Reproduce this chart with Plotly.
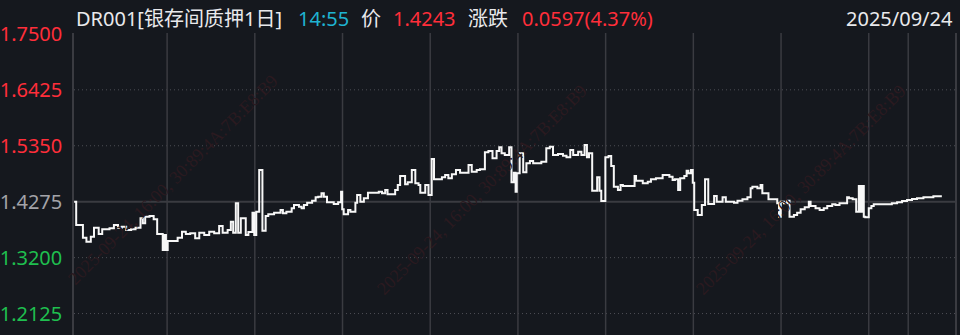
import plotly.graph_objects as go

# ---------------- data ----------------
# minutes since 09:00 where each step of the DR001 rate begins
TIME_MIN = [
    -1.8, -1.1, 1.2, 2.4, 3.9, 5.0, 6.6, 7.8, 10.3, 11.8,
    13.2, 14.5, 16.0, 17.7, 19.2, 20.9, 21.7, 22.5, 24.0, 25.4,
    26.6, 28.5, 29.1, 29.6, 30.2, 33.6, 35.1, 36.4, 37.9, 39.6,
    41.0, 42.7, 44.4, 46.1, 47.8, 49.0, 50.7, 51.8, 52.6, 53.5,
    54.3, 55.2, 56.9, 57.8, 59.2, 59.8, 60.5, 61.5, 62.6, 63.7,
    64.6, 66.6, 68.8, 69.6, 70.8, 72.6, 73.4, 75.1, 76.0, 76.8,
    77.9, 79.6, 80.8, 81.7, 82.8, 83.6, 84.7, 87.0, 88.5, 89.5,
    89.9, 90.4, 91.9, 92.7, 94.4, 95.0, 96.1, 97.3, 98.7, 102.4,
    103.5, 104.6, 105.4, 108.0, 108.9, 109.7, 111.4, 112.3, 113.7, 114.9,
    116.0, 116.6, 118.3, 119.4, 120.5, 121.3, 124.0, 125.1, 126.2, 127.4,
    128.8, 130.2, 133.1, 134.2, 135.9, 137.0, 138.7, 139.9, 141.3, 142.7,
    143.6, 144.4, 145.5, 147.0, 147.8, 148.6, 149.2, 149.6, 150.6, 151.8,
    152.9, 154.1, 155.2, 158.0, 159.7, 160.9, 162.0, 163.7, 165.4, 166.6,
    167.9, 168.9, 170.6, 171.7, 172.8, 173.6, 174.3, 175.4, 177.1, 177.9,
    178.5, 179.9, 181.0, 181.9, 182.8, 184.2, 185.1, 185.9, 189.9, 190.4,
    192.7, 194.4, 195.5, 197.2, 199.5, 201.8, 202.9, 203.7, 204.8, 205.5,
    206.9, 207.7, 208.3, 209.2, 209.8, 210.3, 211.5, 212.9, 214.0, 215.1,
    217.1, 218.0, 220.0, 221.1, 223.9, 225.1, 226.8, 228.5, 229.6, 230.2,
    231.9, 233.0, 233.6, 235.7, 238.7, 239.3, 239.9, 241.0, 242.1, 242.9,
    244.4, 245.5, 246.7, 248.1, 249.5, 250.1, 251.8, 253.2, 254.6, 255.8,
    257.5, 258.6, 260.0, 262.6, 263.2, 264.5, 265.7, 266.6, 267.1, 267.7,
    268.3, 268.8, 270.0, 270.9, 271.7, 277.9, 279.7, 281.4, 283.1, 284.8,
    286.5, 288.7, 292.1, 295.0,
]

RATE = [
    1.4275, 1.3827, 1.3583, 1.3506, 1.3602, 1.3775, 1.3654, 1.3745, 1.3764, 1.3827,
    1.3775, 1.3795, 1.3731, 1.3745, 1.3775, 1.3956, 1.3860, 1.3987, 1.4000, 1.3937,
    1.3654, 1.3347, 1.3635, 1.3347, 1.3520, 1.3583, 1.3698, 1.3654, 1.3668, 1.3572,
    1.3679, 1.3635, 1.3698, 1.3668, 1.3808, 1.3679, 1.3731, 1.3891, 1.3679, 1.4244,
    1.3679, 1.3956, 1.3635, 1.3693, 1.4064, 1.3635, 1.4083, 1.4884, 1.3718, 1.4000,
    1.4033, 1.4064, 1.4115, 1.4052, 1.4083, 1.4148, 1.4212, 1.4179, 1.4148, 1.4212,
    1.4256, 1.4294, 1.4360, 1.4371, 1.4436, 1.4371, 1.4263, 1.4231, 1.4263, 1.4467,
    1.4129, 1.4033, 1.4115, 1.4083, 1.4256, 1.4404, 1.4275, 1.4340, 1.4448, 1.4467,
    1.4436, 1.4500, 1.4417, 1.4500, 1.4596, 1.4769, 1.4609, 1.4648, 1.4884, 1.4629,
    1.4596, 1.4448, 1.4596, 1.4404, 1.5096, 1.4706, 1.4744, 1.4788, 1.4725, 1.4802,
    1.4884, 1.4832, 1.4980, 1.4852, 1.4884, 1.4898, 1.5224, 1.5249, 1.5109, 1.5249,
    1.5321, 1.5205, 1.5173, 1.5321, 1.4648, 1.4832, 1.4467, 1.4821, 1.5205, 1.4840,
    1.5013, 1.5057, 1.5013, 1.5044, 1.5301, 1.5332, 1.5173, 1.5192, 1.5159, 1.5128,
    1.5269, 1.5173, 1.5236, 1.5173, 1.5365, 1.5128, 1.5205, 1.4486, 1.4744, 1.4486,
    1.4288, 1.5128, 1.5153, 1.4961, 1.4563, 1.4500, 1.4596, 1.4577, 1.4769, 1.4679,
    1.4629, 1.4659, 1.4706, 1.4725, 1.4788, 1.4756, 1.4692, 1.4706, 1.4500, 1.4725,
    1.4769, 1.4871, 1.4821, 1.4884, 1.4640, 1.4115, 1.4019, 1.4212, 1.4706, 1.4231,
    1.4385, 1.4275, 1.4360, 1.4275, 1.4256, 1.4294, 1.4321, 1.4360, 1.4533, 1.4563,
    1.4533, 1.4596, 1.4436, 1.4321, 1.4244, 1.3987, 1.4275, 1.4244, 1.4294, 1.3987,
    1.4019, 1.4064, 1.4129, 1.4167, 1.4275, 1.4192, 1.4148, 1.4115, 1.4148, 1.4192,
    1.4225, 1.4212, 1.4244, 1.4360, 1.4340, 1.4321, 1.4083, 1.4577, 1.4083, 1.4577,
    1.3987, 1.3975, 1.4148, 1.4192, 1.4225, 1.4244, 1.4263, 1.4288, 1.4308, 1.4327,
    1.4340, 1.4360, 1.4379, 1.4379,
]

Y_TICKS = [1.7500, 1.6425, 1.5350, 1.4275, 1.3200, 1.2125]
BASE_LEVEL = 1.4275
X_GRID_MIN = [30, 60, 90, 120, 150, 180, 210, 240, 270, 283.5]
X_RANGE = [-1.85, 299.5]
Y_RANGE = [1.1713, 1.7517]

TITLE = "DR001[银存间质押1日]"
TIME_LABEL = "14:55"
PRICE_LABEL = "价"
PRICE = "1.4243"
CHANGE_LABEL = "涨跌"
CHANGE = "0.0597(4.37%)"
DATE = "2025/09/24"
WATERMARK = "2025-09-24, 16:00, 30:89:4A:7B:E8:B9"

# ---------------- styling ----------------
BG = "#15181e"
RED = "#ff2e3a"
GREEN = "#1fbf4f"
GREY = "#a3a3a8"
WHITE = "#e9e9ec"
CYAN = "#1fb3d1"
GRID = "#3a3b41"
DOT = "#4d4e55"
FONT = "Noto Sans, Noto Sans CJK SC, sans-serif"

W, H = 960, 335
ML, MR, MT, MB = 71, 5, 33, 0
PW, PH = W - ML - MR, H - MT - MB


def tick_color(v):
    if v > BASE_LEVEL + 1e-9:
        return RED
    if v < BASE_LEVEL - 1e-9:
        return GREEN
    return GREY


tick_text = [f'<span style="color:{tick_color(v)}">{v:.4f}</span>' for v in Y_TICKS]

fig = go.Figure()
fig.add_trace(go.Scatter(
    x=TIME_MIN, y=RATE, mode="lines", line=dict(color="#f7f7f7", width=2, shape="hv"),
    hoverinfo="skip", showlegend=False,
))

shapes = []
for v in Y_TICKS:
    if abs(v - Y_TICKS[0]) < 1e-9:
        continue
    if abs(v - BASE_LEVEL) < 1e-9:
        shapes.append(dict(type="line", xref="paper", x0=0, x1=1, yref="y", y0=v, y1=v,
                           line=dict(color=GRID, width=2), layer="below"))
    else:
        shapes.append(dict(type="line", xref="paper", x0=0, x1=1, yref="y", y0=v, y1=v,
                           line=dict(color=DOT, width=1, dash="1px,3px"), layer="below"))
for t in X_GRID_MIN:
    shapes.append(dict(type="line", xref="x", x0=t, x1=t, yref="paper", y0=0, y1=1,
                       line=dict(color=GRID, width=1.5), layer="below"))


def px_x(p):
    return (p - ML) / PW


def px_y(p):
    return (H - MB - p) / PH


annotations = []
HY = px_y(18)
for txt, xp, col, anchor in [
    (TITLE, 71, WHITE, "left"),
    (TIME_LABEL, 294, CYAN, "left"),
    (PRICE_LABEL, 357, WHITE, "left"),
    (PRICE, 389, RED, "left"),
    (CHANGE_LABEL, 464, WHITE, "left"),
    (CHANGE, 519, RED, "left"),
    (DATE, 955, WHITE, "right"),
]:
    annotations.append(dict(text=txt, xref="paper", yref="paper", x=px_x(xp), y=HY,
                            xanchor=anchor, yanchor="middle", showarrow=False,
                            font=dict(family=FONT, size=20, color=col)))

# faint diagonal watermark, kept fully inside the picture
for cx, cy in [(170, 180), (480, 190), (800, 190)]:
    annotations.append(dict(text=WATERMARK, xref="paper", yref="paper", x=px_x(cx), y=px_y(cy),
                            xanchor="center", yanchor="middle", showarrow=False, textangle=-45,
                            font=dict(family="Liberation Serif, DejaVu Serif, serif", size=18,
                                      color="#2b1a20")))

fig.update_layout(
    width=W, height=H, margin=dict(l=ML, r=MR, t=MT, b=MB, pad=0),
    paper_bgcolor=BG, plot_bgcolor=BG,
    shapes=shapes, annotations=annotations, showlegend=False,
    xaxis=dict(range=X_RANGE, showgrid=False, zeroline=False, showticklabels=False,
               ticks="", fixedrange=True),
    yaxis=dict(range=Y_RANGE, tickvals=Y_TICKS, ticktext=tick_text, showgrid=False,
               zeroline=False, ticks="", ticklabelstandoff=6,
               tickfont=dict(family=FONT, size=20, color=GREY),
               showline=True, mirror=True, linecolor=GRID, linewidth=1.5, fixedrange=True),
)

fig.write_html("out.html", config={"displayModeBar": False})
